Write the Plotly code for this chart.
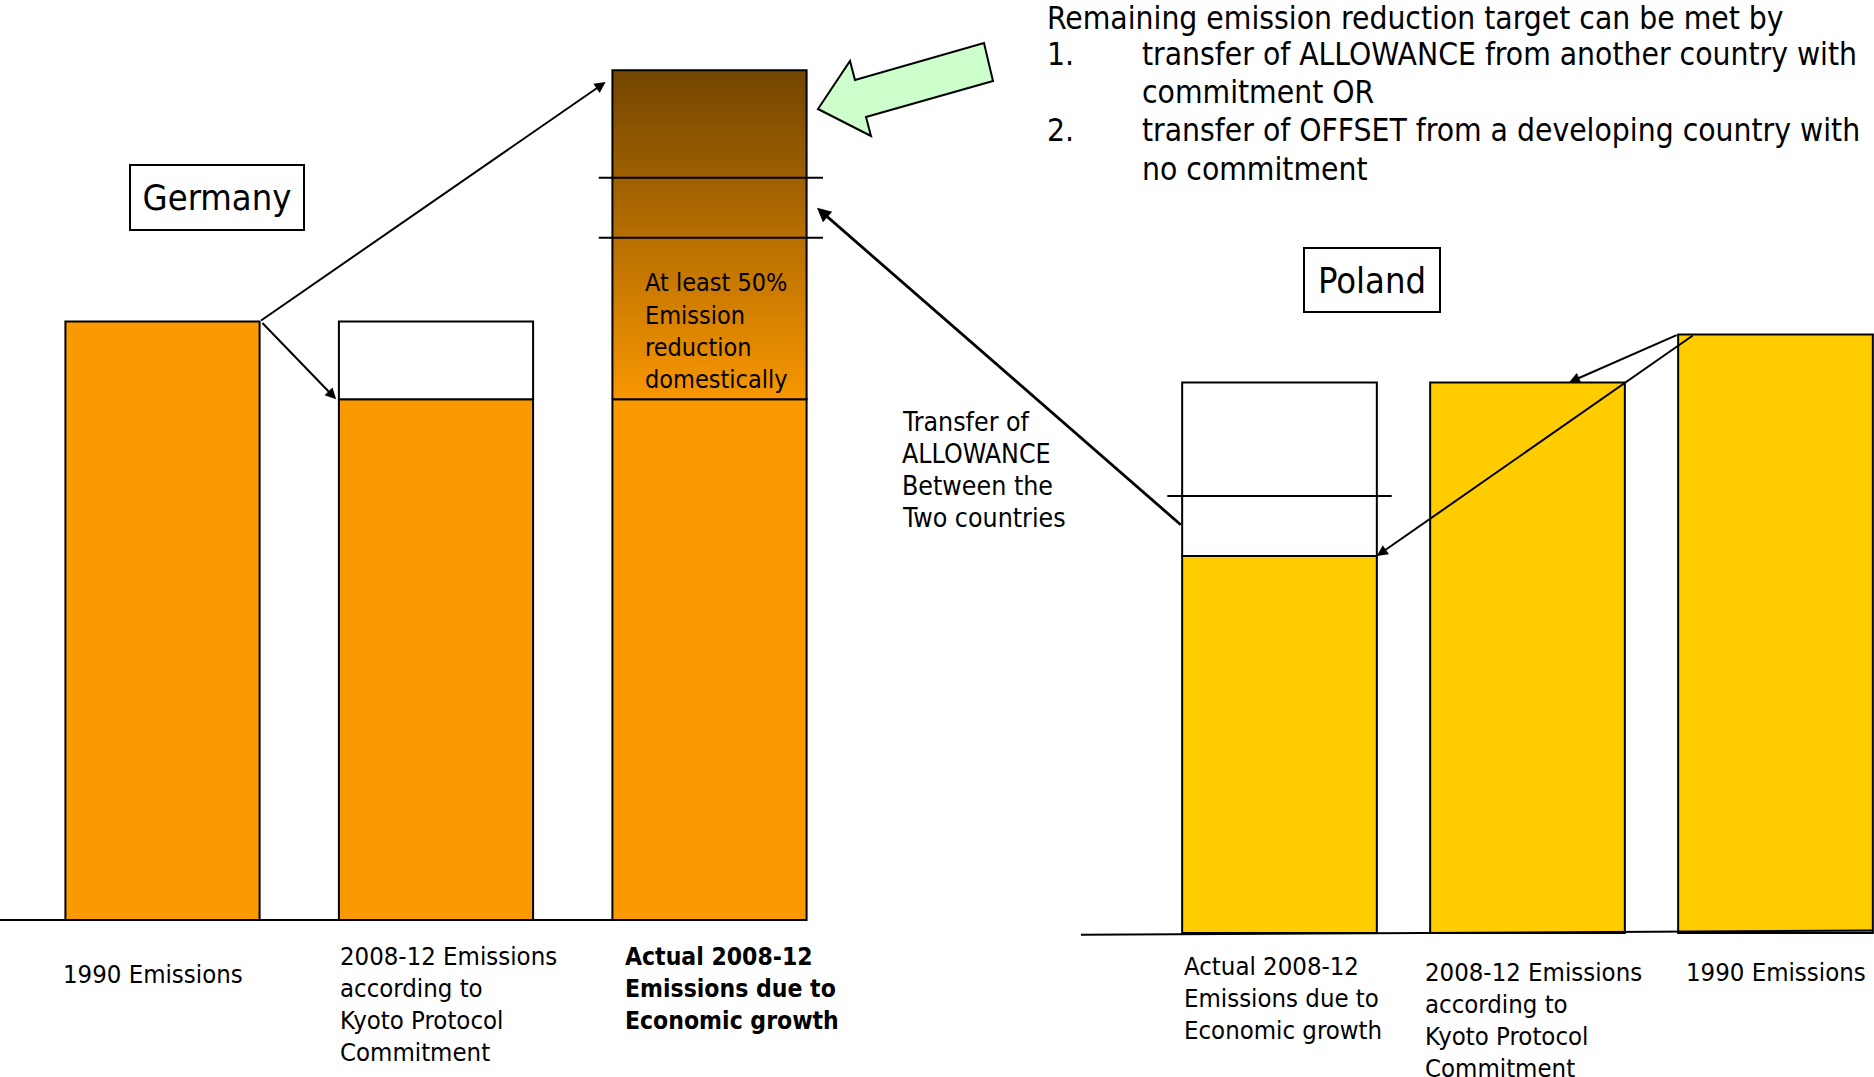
import plotly.graph_objects as go

W, H = 1874, 1077
FONT = "DejaVu Sans Condensed, DejaVu Sans, sans-serif"

# Emissions relative to each country's 1990 level (1990 = 100)
germany_labels = [
    ["1990 Emissions"],
    ["2008-12 Emissions", "according to", "Kyoto Protocol", "Commitment"],
    ["<b>Actual 2008-12</b>", "<b>Emissions due to</b>", "<b>Economic growth</b>"],
]
germany_emissions = [100, 87, 142]
germany_kyoto_level = 87
germany_split_levels = [114, 124]

poland_labels = [
    ["Actual 2008-12", "Emissions due to", "Economic growth"],
    ["2008-12 Emissions", "according to", "Kyoto Protocol", "Commitment"],
    ["1990 Emissions"],
]
poland_emissions = [63, 92, 100]
poland_kyoto_level = 92
poland_split_level = 73

header_lines = [
    "Remaining emission reduction target can be met by",
    "transfer of ALLOWANCE from another country with",
    "commitment OR",
    "transfer of OFFSET from a developing country with",
    "no commitment",
]
domestic_note = ["At least 50%", "Emission", "reduction", "domestically"]
transfer_note = ["Transfer of", "ALLOWANCE", "Between the", "Two countries"]

# ---- panel geometry (pixels) ----
UNIT_PX = 5.985
panels = {
    "G": dict(c0=162.5, slot=273.5, base=920.0, left=0.0, right=162.5 + 2.6 * 273.5, bw=0.71),
    "P": dict(c0=1279.5, slot=248.0, base=933.0, left=1081.0, right=W, bw=0.785),
}


def xr(p):
    g = panels[p]
    return [(g["left"] - g["c0"]) / g["slot"], (g["right"] - g["c0"]) / g["slot"]]


def yr(p):
    g = panels[p]
    return [-(H - g["base"]) / UNIT_PX, g["base"] / UNIT_PX]


def to_px(p, x, y):
    g = panels[p]
    return g["c0"] + x * g["slot"], g["base"] - y * UNIT_PX


ORANGE = "#FB9A00"
YELLOW = "#FFCC00"
LINE = dict(color="black", width=2)

fig = go.Figure()

# Germany bars
gbw = panels["G"]["bw"]
fig.add_trace(go.Bar(x=[0, 1, 2], y=[germany_emissions[0], germany_kyoto_level, germany_kyoto_level],
                     width=gbw, marker=dict(color=ORANGE, line=LINE), xaxis="x", yaxis="y"))
fig.add_trace(go.Bar(x=[1], y=[germany_emissions[0] - germany_kyoto_level], base=[germany_kyoto_level],
                     width=gbw, marker=dict(color="white", line=LINE), xaxis="x", yaxis="y"))
# excess emissions above the Kyoto level, shaded dark at the top
xl, xh = 2 - gbw / 2, 2 + gbw / 2
fig.add_trace(go.Scatter(
    x=[xl, xh, xh, xl, xl],
    y=[germany_kyoto_level, germany_kyoto_level, germany_emissions[2], germany_emissions[2], germany_kyoto_level],
    mode="lines", fill="toself", line=LINE,
    fillgradient=dict(type="vertical", colorscale=[[0, "#F89600"], [1, "#724500"]]),
    xaxis="x", yaxis="y", hoverinfo="skip"))

# Poland bars
pbw = panels["P"]["bw"]
fig.add_trace(go.Bar(x=[0, 1, 2], y=poland_emissions, width=pbw,
                     marker=dict(color=YELLOW, line=LINE), xaxis="x2", yaxis="y2"))
fig.add_trace(go.Bar(x=[0], y=[poland_kyoto_level - poland_emissions[0]], base=[poland_emissions[0]],
                     width=pbw, marker=dict(color="white", line=LINE), xaxis="x2", yaxis="y2"))

shapes = []
# baselines
shapes.append(dict(type="line", xref="x", yref="y", x0=xr("G")[0], x1=2 + gbw / 2, y0=0, y1=0, line=LINE))
shapes.append(dict(type="line", xref="x2", yref="y2", x0=xr("P")[0], x1=2 + pbw / 2, y0=-0.3, y1=0.4, line=LINE))
# split marks on Germany's actual emissions
for lv in germany_split_levels:
    shapes.append(dict(type="line", xref="x", yref="y", x0=xl - 0.05, x1=xh + 0.06, y0=lv, y1=lv, line=LINE))
# split mark on Poland's allowance gap
shapes.append(dict(type="line", xref="x2", yref="y2", x0=-pbw / 2 - 0.06, x1=pbw / 2 + 0.06,
                   y0=poland_split_level, y1=poland_split_level, line=LINE))


def pp(x, y):
    return f"{x / W:.5f},{1 - y / H:.5f}"


# block arrow pointing at the excess
green_pts = [(818, 109), (850, 61), (855, 80), (984, 43), (993, 81), (866, 117), (871, 136)]
path = "M" + " L".join(pp(*p) for p in green_pts) + " Z"
shapes.append(dict(type="path", xref="paper", yref="paper", path=path,
                   fillcolor="#CCFFCC", line=dict(color="black", width=2)))

annotations = []
ARW = dict(showarrow=True, arrowhead=2, arrowsize=1.1, arrowcolor="black", text="")

# Germany arrows
annotations.append(dict(xref="x", yref="y", axref="x", ayref="y", x=xl - 0.025, y=germany_emissions[2] - 2,
                        ax=gbw / 2, ay=germany_emissions[0], arrowwidth=2, **ARW))
annotations.append(dict(xref="x", yref="y", axref="x", ayref="y", x=1 - gbw / 2 - 0.01, y=germany_kyoto_level,
                        ax=gbw / 2 + 0.005, ay=germany_emissions[0], arrowwidth=2, **ARW))
# Poland arrows
annotations.append(dict(xref="x2", yref="y2", axref="x2", ayref="y2", x=1.167, y=poland_kyoto_level,
                        ax=2 - pbw / 2, ay=poland_emissions[2], arrowwidth=2, **ARW))
annotations.append(dict(xref="x2", yref="y2", axref="x2", ayref="y2", x=pbw / 2, y=poland_emissions[0],
                        ax=2 - pbw / 2 + 0.065, ay=poland_emissions[2], arrowwidth=2, **ARW))
# allowance transfer from Poland to Germany
tip = (xh + 0.038, 119)
tpx = to_px("G", *tip)
tail = to_px("P", -pbw / 2, 68)
annotations.append(dict(xref="x", yref="y", x=tip[0], y=tip[1], ax=tail[0] - tpx[0], ay=tail[1] - tpx[1],
                        arrowwidth=2.8, **{**ARW, "arrowsize": 1.0}))

# country boxes
for name, cx, cy, bw_, bh_ in [("Germany", 217, 197.5, 172, 63), ("Poland", 1372, 280, 134, 62)]:
    annotations.append(dict(xref="paper", yref="paper", x=cx / W, y=1 - cy / H, text=name, showarrow=False,
                            xanchor="center", yanchor="middle", width=bw_, height=bh_, borderpad=0,
                            bordercolor="black", borderwidth=2, bgcolor="white",
                            font=dict(family=FONT, size=36, color="black")))


def txt(text, x, y, size):
    annotations.append(dict(xref="paper", yref="paper", x=x / W, y=1 - y / H, text=text, showarrow=False,
                            align="left", xanchor="left", yanchor="middle",
                            font=dict(family=FONT, size=size, color="black")))


def block(lines, x, y0, size, step=32.3):
    for k, line in enumerate(lines):
        txt(line, x, y0 + k * step, size)


# header list
hy = [18, 54, 92, 130, 169]
txt(header_lines[0], 1045, hy[0], 31.5)
txt("1.", 1045, hy[1], 31.5)
txt("2.", 1045, hy[3], 31.5)
for i in (1, 2, 3, 4):
    txt(header_lines[i], 1140, hy[i], 31.5)

block(domestic_note, 643, 283, 25)
block(transfer_note, 900, 421, 26.5)

# category labels under the bars
g_label_dx = [-0.015, -0.005, 0.04]
g_label_y = [974, 956, 956]
g_label_size = [25.5, 25.5, 24.5]
for i, lab in enumerate(germany_labels):
    x, _ = to_px("G", i - gbw / 2 + g_label_dx[i], 0)
    block(lab, x, g_label_y[i], g_label_size[i], 32)
p_label_dx = [0.0, -0.028, 0.025]
p_label_y = [966, 972, 972]
for i, lab in enumerate(poland_labels):
    x, _ = to_px("P", i - pbw / 2 + p_label_dx[i], 0)
    block(lab, x, p_label_y[i], 25.5, 32)

ax_common = dict(visible=False, fixedrange=True)
fig.update_layout(
    width=W, height=H, margin=dict(l=0, r=0, t=0, b=0),
    paper_bgcolor="white", plot_bgcolor="white", showlegend=False, barmode="overlay",
    xaxis=dict(domain=[0, panels["G"]["right"] / W], range=xr("G"), **ax_common),
    yaxis=dict(domain=[0, 1], range=yr("G"), **ax_common),
    xaxis2=dict(domain=[panels["P"]["left"] / W, 1], range=xr("P"), anchor="y2", **ax_common),
    yaxis2=dict(domain=[0, 1], range=yr("P"), anchor="x2", **ax_common),
    shapes=shapes, annotations=annotations,
)

fig.write_html("out.html")
